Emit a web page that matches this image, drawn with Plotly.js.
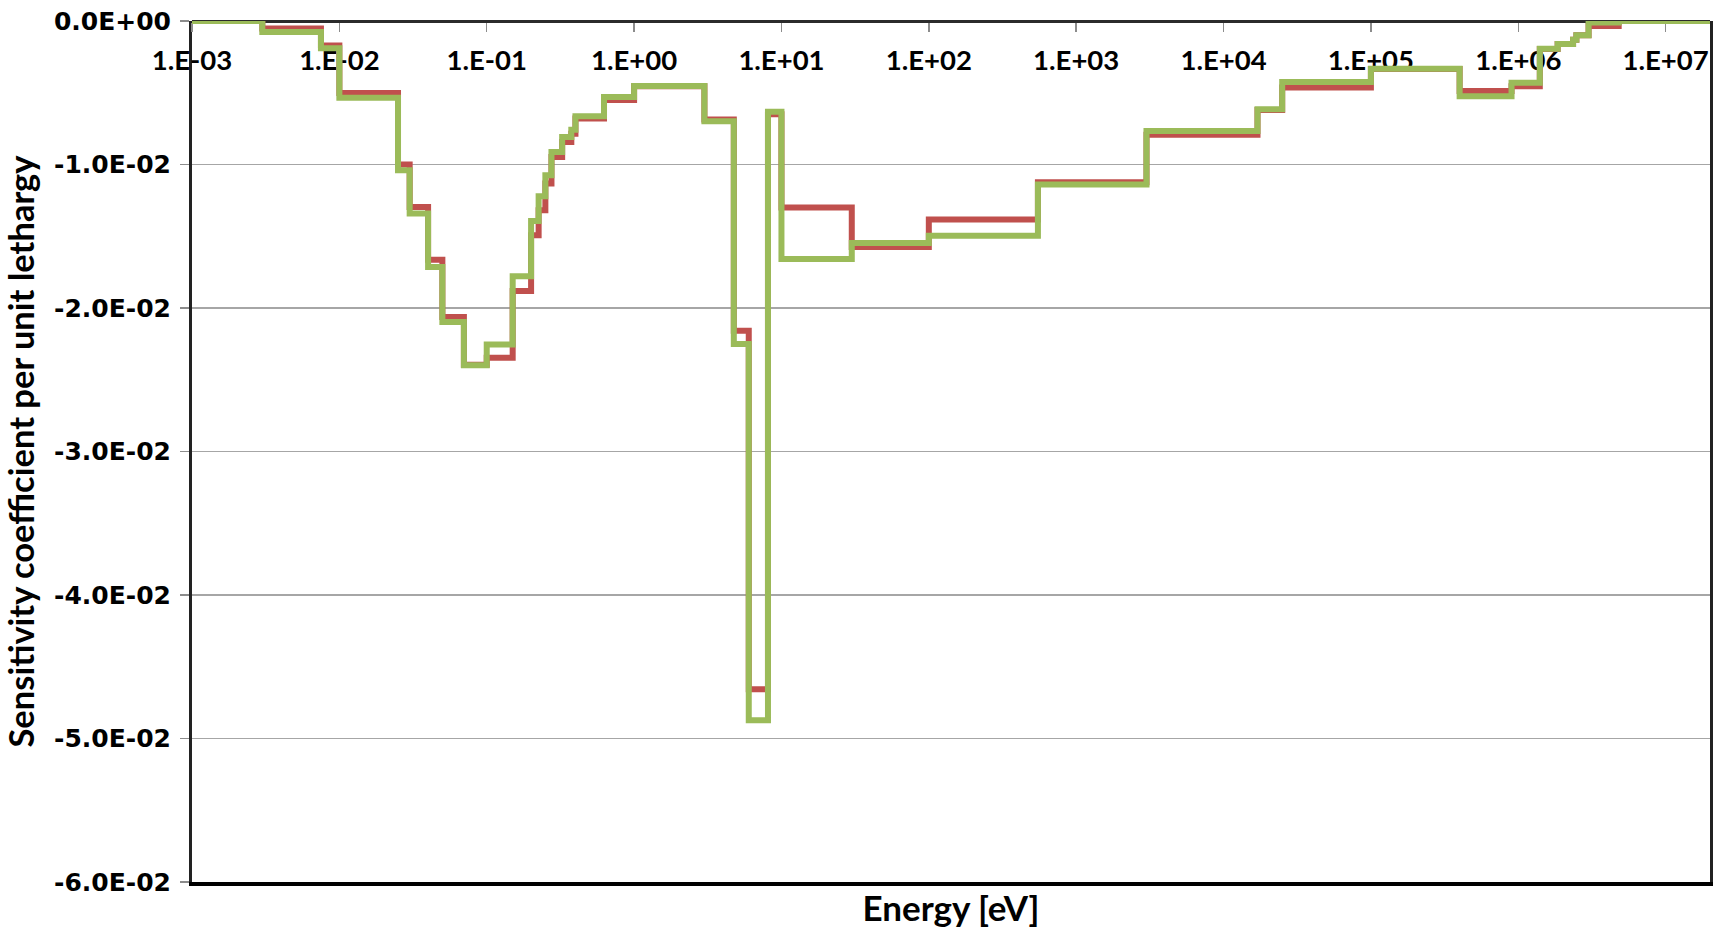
<!DOCTYPE html>
<html>
<head>
<meta charset="utf-8">
<script src="https://cdn.plot.ly/plotly-3.0.1.min.js"></script>
<style>html,body{margin:0;padding:0;background:#fff;}#chart{width:1721px;height:931px;}</style>
</head>
<body>
<div id="chart"></div>
<script>
// Group boundaries (eV), ascending
const energyBounds = [1e-3, 3e-3, 7.5e-3, 1e-2, 2.5e-2, 3e-2, 4e-2, 5e-2, 7e-2, 0.1, 0.15, 0.2, 0.225, 0.25, 0.275, 0.325, 0.375, 0.4, 0.625, 1, 3, 4.75, 6, 8.1, 10, 30, 100, 550, 3000, 1.7e4, 2.5e4, 1e5, 4e5, 9e5, 1.4e6, 1.85e6, 2.354e6, 2.479e6, 3e6, 4.8e6, 2e7];
// Sensitivity per unit lethargy for each group (lower bound -> upper bound)
const redValues = [0, -0.00053, -0.0017, -0.00502, -0.0100, -0.01296, -0.01663, -0.02063, -0.02395, -0.02346, -0.01882, -0.01493, -0.01319, -0.01133, -0.00948, -0.00843, -0.00785, -0.0068, -0.0055, -0.00455, -0.00686, -0.02158, -0.04656, -0.0065, -0.01299, -0.01575, -0.01384, -0.01124, -0.00792, -0.0062, -0.00464, -0.00335, -0.00487, -0.00455, -0.00195, -0.0016, -0.0013, -0.001, -0.00035, 0];
const greenValues = [0, -0.00077, -0.0019, -0.00534, -0.0104, -0.01342, -0.01714, -0.02098, -0.02399, -0.02255, -0.01779, -0.01394, -0.01222, -0.01075, -0.00913, -0.00808, -0.00757, -0.00664, -0.0053, -0.00453, -0.00699, -0.02251, -0.04873, -0.00633, -0.01659, -0.01547, -0.01496, -0.0114, -0.00767, -0.00615, -0.00425, -0.00332, -0.00525, -0.0043, -0.00193, -0.0016, -0.0013, -0.001, -0.0001, 0];

const xTickVals = [1e-3, 1e-2, 1e-1, 1e0, 1e1, 1e2, 1e3, 1e4, 1e5, 1e6, 1e7];
const xTickText = ['1.E-03', '1.E-02', '1.E-01', '1.E+00', '1.E+01', '1.E+02', '1.E+03', '1.E+04', '1.E+05', '1.E+06', '1.E+07'];
const yTickVals = [0, -0.01, -0.02, -0.03, -0.04, -0.05, -0.06];
const yTickText = ['0.0E+00', '-1.0E-02', '-2.0E-02', '-3.0E-02', '-4.0E-02', '-5.0E-02', '-6.0E-02'];

function stepY(vals) { return vals.concat([vals[vals.length - 1]]); }

const traces = [
  {x: energyBounds, y: stepY(redValues), type: 'scatter', mode: 'lines', line: {shape: 'hv', color: '#C0504D', width: 6}, xaxis: 'x', yaxis: 'y', hoverinfo: 'skip'},
  {x: energyBounds, y: stepY(greenValues), type: 'scatter', mode: 'lines', line: {shape: 'hv', color: '#9BBB59', width: 6}, xaxis: 'x2', yaxis: 'y', hoverinfo: 'skip'}
];

const xr = [-3, Math.log10(2e7)];
const layout = {
  width: 1721, height: 931,
  margin: {l: 192, r: 11, t: 21, b: 49, pad: 0},
  paper_bgcolor: '#fff', plot_bgcolor: '#fff',
  showlegend: false,
  xaxis: {
    type: 'log', range: xr, showgrid: false, zeroline: false,
    showline: true, linecolor: '#000', linewidth: 4,
    ticks: '', showticklabels: false, automargin: false, layer: 'below traces',
    title: {text: 'Energy [eV]', font: {family: 'Lato', size: 35, weight: 700, color: '#000'}, standoff: 12}
  },
  xaxis2: {
    type: 'log', range: xr, overlaying: 'x', anchor: 'free', position: 1, side: 'bottom',
    showgrid: false, zeroline: false, showline: true, linecolor: '#2b2b2b', linewidth: 3,
    ticks: 'outside', ticklen: 9, tickwidth: 1.5, tickcolor: '#8c8c8c',
    tickmode: 'array', tickvals: xTickVals, ticktext: xTickText,
    tickfont: {family: 'Lato', size: 27.5, weight: 700, color: '#000'},
    ticklabelstandoff: 5, automargin: false, layer: 'below traces'
  },
  yaxis: {
    range: [-0.06, 0], tickmode: 'array', tickvals: yTickVals, ticktext: yTickText,
    tickfont: {family: 'DejaVu Sans', size: 25, weight: 700, color: '#000'},
    ticks: 'outside', ticklen: 9, tickwidth: 1.5, tickcolor: '#8c8c8c',
    showgrid: true, gridcolor: '#a6a6a6', gridwidth: 1.3, zeroline: false,
    showline: true, linecolor: '#222', linewidth: 3, mirror: true,
    ticklabelstandoff: 4, automargin: false, layer: 'below traces',
    title: {text: 'Sensitivity coefficient per unit lethargy', font: {family: 'Lato', size: 34.5, weight: 700, color: '#000'}, standoff: 10}
  }
};

Plotly.newPlot('chart', traces, layout, {staticPlot: true, displayModeBar: false});
</script>
</body>
</html>
